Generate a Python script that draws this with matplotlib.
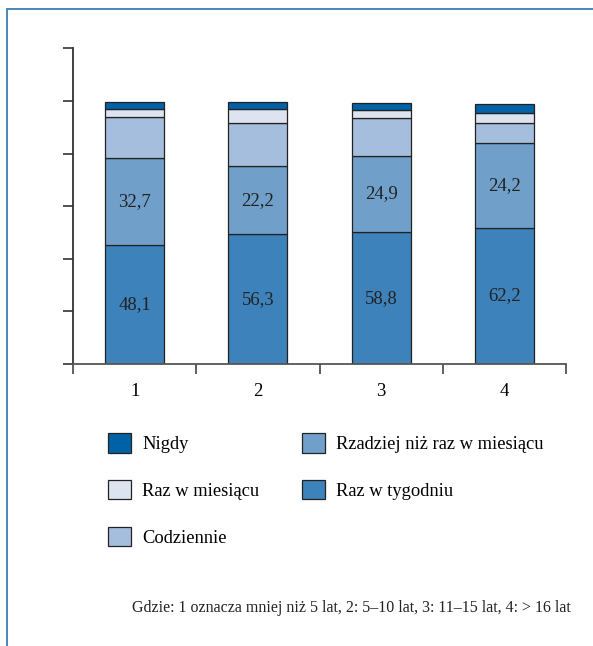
import numpy as np
import matplotlib
matplotlib.use("Agg")
import matplotlib.pyplot as plt
from matplotlib.lines import Line2D

plt.rcParams['font.family'] = ['Liberation Serif', 'DejaVu Serif']

# Grupy (staż) i segmenty słupków, od dołu do góry
grupy = ['1', '2', '3', '4']
raz_w_tygodniu = [45.1, 49.3, 50.1, 51.8]
rzadziej = [33.2, 25.8, 29.1, 32.1]
codziennie = [15.5, 16.7, 14.4, 7.8]
raz_w_miesiacu = [3.0, 5.1, 3.0, 3.9]
nigdy = [2.7, 2.7, 2.7, 3.4]

# Etykiety liczbowe wypisane na słupkach
etykiety_tydzien = ['48,1', '56,3', '58,8', '62,2']
etykiety_rzadziej = ['32,7', '22,2', '24,9', '24,2']

serie = [
    ('Raz w tygodniu', raz_w_tygodniu, '#3d82bb'),
    ('Rzadziej niż raz w miesiącu', rzadziej, '#70a0ca'),
    ('Codziennie', codziennie, '#a6bedd'),
    ('Raz w miesiącu', raz_w_miesiacu, '#dde3ef'),
    ('Nigdy', nigdy, '#0062a6'),
]

fig = plt.figure(figsize=(5.93, 6.46), dpi=100)
ax = fig.add_axes([0.1231, 0.4365, 0.8314, 0.4887])

x = np.arange(len(grupy))
dol = np.zeros(len(grupy))
slupki = {}
for nazwa, wartosci, kolor in serie:
    b = ax.bar(x, wartosci, 0.48, bottom=dol, color=kolor,
               edgecolor='#222222', linewidth=0.9, label=nazwa)
    slupki[nazwa] = (b, dol.copy(), np.array(wartosci))
    dol += np.array(wartosci)

for nazwa, teksty in [('Raz w tygodniu', etykiety_tydzien),
                      ('Rzadziej niż raz w miesiącu', etykiety_rzadziej)]:
    _, spod, wart = slupki[nazwa]
    for i, t in enumerate(teksty):
        ax.text(x[i], spod[i] + wart[i] / 2, t, ha='center', va='center',
                fontsize=13.5, color='#222222')

ax.set_ylim(0, 120)
ax.set_xlim(-0.5, 3.5)
ax.set_yticks(np.arange(0, 121, 20))
ax.set_yticklabels([])
ax.set_xticks(np.arange(-0.5, 4, 1))
ax.set_xticklabels([])
ax.set_xticks(x, grupy, minor=True)
ax.tick_params(axis='x', which='minor', length=0, pad=14, labelsize=13.5)
ax.tick_params(axis='x', which='major', direction='out', length=7,
               width=1.2, color='#444444')
ax.tick_params(axis='y', direction='out', length=7, width=1.2, color='#333333')
for s in ['top', 'right']:
    ax.spines[s].set_visible(False)
ax.spines['left'].set_color('#333333')
ax.spines['left'].set_linewidth(1.3)
ax.spines['bottom'].set_color('#555555')
ax.spines['bottom'].set_linewidth(1.3)

uchwyty, nazwy = ax.get_legend_handles_labels()
kolejnosc = ['Nigdy', 'Raz w miesiącu', 'Codziennie',
             'Rzadziej niż raz w miesiącu', 'Raz w tygodniu']
uchwyty = [uchwyty[nazwy.index(n)] for n in kolejnosc]
fig.legend(uchwyty, kolejnosc, loc='upper left',
           bbox_to_anchor=(108 / 593, 1 - 433 / 646), ncol=2, frameon=False,
           fontsize=13.3, handlelength=1.25, handleheight=1.25,
           handletextpad=0.6, labelspacing=1.45, columnspacing=2.3,
           borderpad=0, borderaxespad=0)

fig.text(0.592, 0.0588, 'Gdzie: 1 oznacza mniej niż 5 lat, 2: 5–10 lat, '
         '3: 11–15 lat, 4: > 16 lat', ha='center', va='center',
         fontsize=11.5, color='#222222')

# Niebieska ramka: góra i lewa strona
ramka = '#4a86bd'
fig.add_artist(Line2D([7 / 593, 1], [1 - 9 / 646, 1 - 9 / 646],
                      transform=fig.transFigure, color=ramka, linewidth=1.4))
fig.add_artist(Line2D([7 / 593, 7 / 593], [0, 1 - 9 / 646],
                      transform=fig.transFigure, color=ramka, linewidth=1.4))

fig.savefig('out.png', dpi=100)
